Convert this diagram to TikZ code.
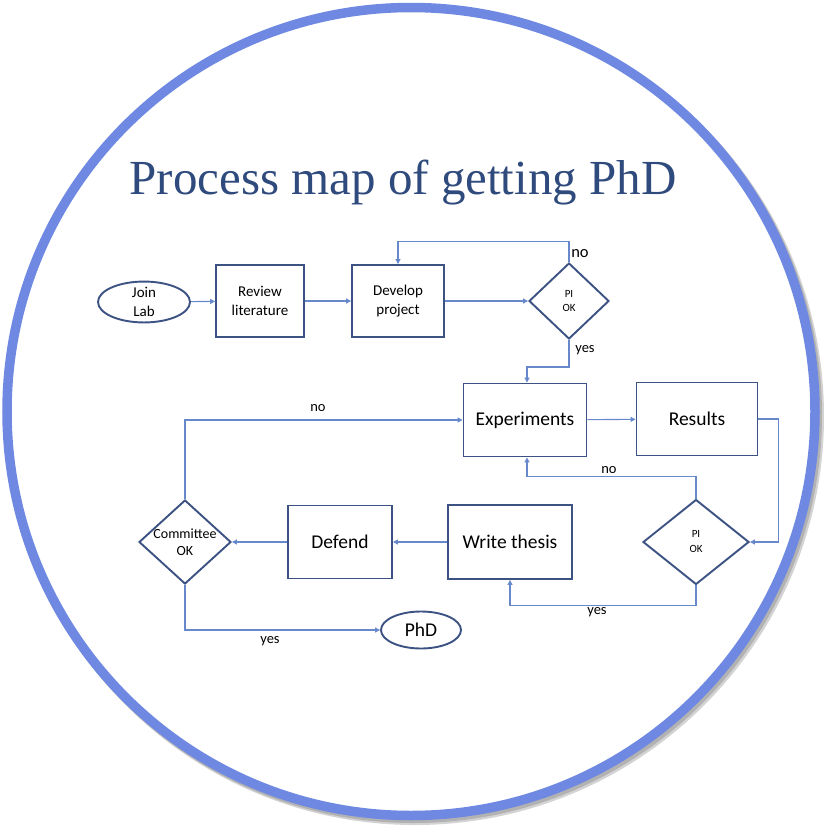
\documentclass[tikz,border=0pt]{standalone}
\usepackage{fontspec}
\setmainfont{Carlito}
\newfontfamily\titlefont{Liberation Serif}
\usetikzlibrary{shapes.geometric,arrows.meta}
\definecolor{ringblue}{RGB}{111,137,226}
\definecolor{boxblue}{RGB}{59,82,131}
\definecolor{lineblue}{RGB}{104,136,204}
\definecolor{titleblue}{RGB}{47,74,124}
\tikzset{
	box/.style={draw=boxblue, line width=1.9pt, inner sep=0pt, align=center},
	oval/.style={box, ellipse},
	choice/.style={box, diamond},
	flow/.style={draw=lineblue, line width=1.1pt, -{Triangle[length=5pt,width=5pt]}},
	lbl/.style={font=\fontsize{14.5}{16}\selectfont, inner sep=0pt},
	small/.style={font=\fontsize{15}{18.5}\selectfont},
	big/.style={font=\fontsize{19.5}{22}\selectfont}
}
\begin{document}
\begin{tikzpicture}[x=1pt,y=-1pt]
	\useasboundingbox (0,0) rectangle (833,833);
	% frame
	\fill[black!50, opacity=.35] (415,416) circle (409);
	\fill[black!50, opacity=.4] (413.5,414.5) circle (408.5);
	\fill[white] (411,411.5) circle (404);
	\draw[ringblue, line width=9.5pt] (411,411.5) circle (404);
	\node[font=\titlefont\fontsize{49}{56}\selectfont, text=titleblue] (title) at (403,183) {Process map of getting PhD};
	% first row
	\node[oval, small, minimum width=92pt, minimum height=40pt] (join) at (144,302) {Join\\Lab};
	\node[box, small, minimum width=88pt, minimum height=72pt] (review) at (260,301) {Review\\literature};
	\node[box, small, minimum width=92pt, minimum height=72pt] (develop) at (398,301) {Develop\\project};
	\node[choice, minimum width=80pt, minimum height=76pt, font=\fontsize{11}{14}\selectfont] (pi) at (569,301) {PI\\OK};
	% loop
	\node[box, big, minimum width=123pt, minimum height=73pt] (exp) at (525,420) {Experiments};
	\node[box, big, minimum width=121pt, minimum height=73pt] (res) at (697,419) {Results};
	\node[choice, minimum width=106pt, minimum height=85pt, font=\fontsize{11}{15}\selectfont] (pitwo) at (696,542) {PI\\OK};
	\node[box, big, minimum width=124pt, minimum height=74pt] (thesis) at (510,542) {Write thesis};
	\node[box, big, minimum width=104pt, minimum height=73pt] (defend) at (340,542) {Defend};
	\node[choice, minimum width=92pt, minimum height=84pt,
		label={[align=center, inner sep=0pt, font=\fontsize{14}{17.5}\selectfont]center:Committee\\OK}] (committee) at (185,542) {};
	\node[oval, big, minimum width=80pt, minimum height=37pt] (phd) at (421,630) {PhD};
	% connectors
	\draw[flow] (join) -- (review);
	\draw[flow] (review) -- (develop);
	\draw[flow] (develop) -- (pi);
	\draw[flow] (pi.north) -- ++(0,-21) -| (develop.north);
	\draw[flow] (pi.south) -- ++(0,27) -| ([xshift=2pt]exp.north);
	\draw[flow] (exp) -- (res);
	\draw[flow] (res.east) -- ++(20,0) |- (pitwo.east);
	\draw[flow] (pitwo.north) -- ++(0,-22) -| ([xshift=2pt]exp.south);
	\draw[flow] (pitwo.south) -- ++(0,20) -| (thesis.south);
	\draw[flow] (thesis) -- (defend);
	\draw[flow] (defend) -- (committee);
	\draw[flow] (committee.north) |- (exp.west);
	\draw[flow] (committee.south) |- (phd.west);
	% labels
	\node[lbl, font=\fontsize{16.5}{18}\selectfont] (nopi) at (580,254) {no};
	\node[lbl] (yespi) at (585,350) {yes};
	\node[lbl] (nopitwo) at (609,470) {no};
	\node[lbl] (yespitwo) at (597,612) {yes};
	\node[lbl] (nocom) at (318,408) {no};
	\node[lbl] (yescom) at (270,641) {yes};
\end{tikzpicture}
\end{document}
